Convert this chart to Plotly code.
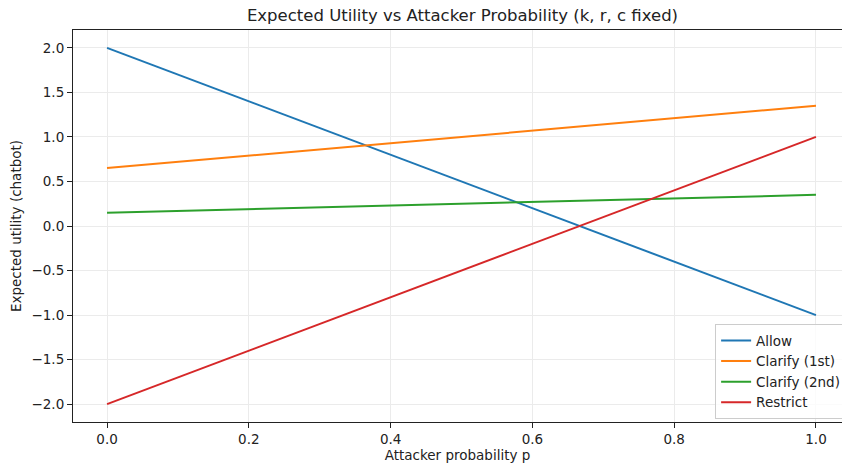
import plotly.graph_objects as go

# Attacker probability (endpoints of each linear utility curve)
p = [0.0, 1.0]

# Expected utility for the chatbot under each action
allow = [2.0, -1.0]
clarify_1st = [0.65, 1.35]
clarify_2nd = [0.15, 0.35]
restrict = [-2.0, 1.0]

series = [
    ("Allow", allow, "#1f77b4"),
    ("Clarify (1st)", clarify_1st, "#ff7f0e"),
    ("Clarify (2nd)", clarify_2nd, "#2ca02c"),
    ("Restrict", restrict, "#d62728"),
]

x_ticks = [0.0, 0.2, 0.4, 0.6, 0.8, 1.0]
y_ticks = [-2.0, -1.5, -1.0, -0.5, 0.0, 0.5, 1.0, 1.5, 2.0]

fig = go.Figure()
for name, vals, color in series:
    fig.add_trace(go.Scatter(
        x=p, y=vals, mode="lines", name=name,
        line=dict(color=color, width=2),
    ))

font = "DejaVu Sans, Verdana, sans-serif"
axis_common = dict(
    showgrid=True, gridcolor="#ebebeb", gridwidth=1,
    showline=True, linecolor="#222222", linewidth=1.1,
    ticks="outside", ticklen=5, tickwidth=1.1, tickcolor="#222222",
    tickfont=dict(family=font, size=13.5, color="#222222"),
    zeroline=False, tickformat=".1f",
)

fig.update_layout(
    width=842, height=468,
    margin=dict(l=73, r=0, t=30, b=46, autoexpand=False),
    paper_bgcolor="white", plot_bgcolor="white",
    font=dict(family=font, size=13.5, color="#222222"),
    title=dict(
        text="Expected Utility vs Attacker Probability (k, r, c fixed)",
        font=dict(family=font, size=16.5, color="#222222"),
        x=(253 + 672) / 2 / 842, xanchor="center", y=1 - 15 / 468, yanchor="middle",
    ),
    xaxis=dict(
        **axis_common, range=[-0.048, 1.0367], tickvals=x_ticks, mirror=True,
        title=dict(text="Attacker probability p", font=dict(family=font, size=13.5), standoff=4),
    ),
    yaxis=dict(
        **axis_common, range=[-2.2, 2.2], tickvals=y_ticks, mirror=False,
        title=dict(text="Expected utility (chatbot)", font=dict(family=font, size=13.5), standoff=6),
    ),
    legend=dict(
        x=0.835, xanchor="left", y=0.007, yanchor="bottom",
        bgcolor="rgba(255,255,255,0.8)", bordercolor="#cccccc", borderwidth=1,
        font=dict(family=font, size=13.5, color="#222222"),
        tracegroupgap=0, itemwidth=30,
    ),
    showlegend=True,
)

fig.write_html("out.html")
